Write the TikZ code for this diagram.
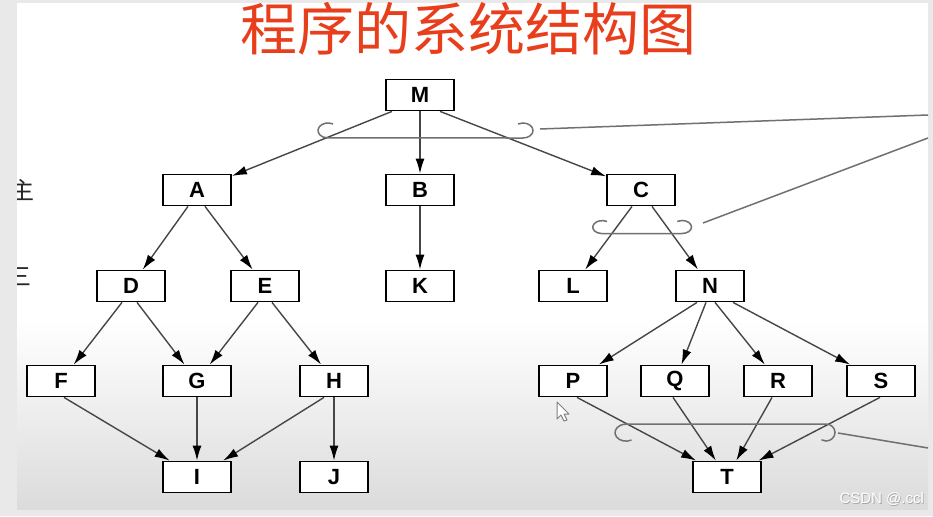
\documentclass[tikz,border=0pt]{standalone}
\usepackage{fontspec}
\setmainfont{Liberation Sans}
\newfontfamily\cjk{Noto Sans CJK SC}
\usetikzlibrary{arrows.meta}
\definecolor{TitleClr}{RGB}{232,62,28}
\definecolor{LineClr}{RGB}{70,70,70}
\definecolor{MarkClr}{RGB}{112,112,112}
\definecolor{PanelClr}{RGB}{233,233,233}

\tikzset{
  modbox/.style={draw=black,line width=1.8pt,fill=white,minimum width=68pt,
    minimum height=31pt,inner sep=0pt,font=\fontsize{22}{22}\selectfont\bfseries},
  call/.style={draw=LineClr,line width=1.4pt,-{Latex[length=15pt,width=9pt,color=black]}},
  selmark/.style={draw=MarkClr,line width=1.5pt},
  sidechar/.style={font=\cjk\fontsize{24}{24}\selectfont,text=black!85,inner sep=0pt},
}

\begin{document}
\begin{tikzpicture}[x=1pt,y=-1pt]
\useasboundingbox (0,0) rectangle (933,516);

% background of the slide
\fill[PanelClr] (0,0) rectangle (933,516);
\fill[white] (17,3) rectangle (928,509);
\shade[top color=white,bottom color=gray!28] (17,320) rectangle (928,509);

\begin{scope}
\clip (17,3) rectangle (928,509);

\node[font=\cjk\fontsize{57}{57}\selectfont,text=TitleClr] (title) at (468,29) {程序的系统结构图};

\node[sidechar] (cut1) at (22,190) {主};
\node[sidechar] (cut2) at (19,277) {三};

% modules
\node[modbox] (M) at (420,95) {M};

\node[modbox] (A) at (197,190) {A};
\node[modbox] (B) at (420,190) {B};
\node[modbox] (C) at (641,190) {C};

\node[modbox] (D) at (131,286) {D};
\node[modbox] (E) at (265,286) {E};
\node[modbox] (K) at (420,286) {K};
\node[modbox] (L) at (573,286) {L};
\node[modbox] (N) at (710,286) {N};

\node[modbox] (F) at (61,381) {F};
\node[modbox] (G) at (197,381) {G};
\node[modbox] (H) at (334,381) {H};
\node[modbox] (P) at (573,381) {P};
\node[modbox] (Q) at (675,381) {Q};
\node[modbox] (R) at (778,381) {R};
\node[modbox] (S) at (881,381) {S};

\node[modbox] (I) at (197,477) {I};
\node[modbox] (J) at (334,477) {J};
\node[modbox] (T) at (727,477) {T};

% calls
\draw[call] ([xshift=-28pt]M.south) -- (A);
\draw[call] (M.south) -- (B);
\draw[call] ([xshift=20pt]M.south) -- (C);

\draw[call] ([xshift=-9pt]A.south) -- (D);
\draw[call] ([xshift=8pt]A.south) -- (E);
\draw[call] (B.south) -- (K);
\draw[call] ([xshift=-9pt]C.south) -- (L);
\draw[call] ([xshift=11pt]C.south) -- (N);

\draw[call] ([xshift=-9pt]D.south) -- (F);
\draw[call] ([xshift=6pt]D.south) -- (G);
\draw[call] ([xshift=-7pt]E.south) -- (G);
\draw[call] ([xshift=7pt]E.south) -- (H);

\draw[call] ([xshift=-13pt]N.south) -- (P);
\draw[call] ([xshift=-4pt]N.south) -- (Q);
\draw[call] ([xshift=5pt]N.south) -- (R);
\draw[call] ([xshift=23pt]N.south) -- (S);

\draw[call] ([xshift=3pt]F.south) -- (I);
\draw[call] (G.south) -- (I);
\draw[call] ([xshift=-10pt]H.south) -- (I);
\draw[call] (H.south) -- (J);

\draw[call] ([xshift=4pt]P.south) -- (T);
\draw[call] ([xshift=-2pt]Q.south) -- (T);
\draw[call] ([xshift=-6pt]R.south) -- (T);
\draw[call] ([xshift=-1pt]S.south) -- (T);

% selection marks and their notes
\draw[selmark] (333,124) arc[start angle=-60,end angle=-270,x radius=10,y radius=7.5]
  -- (523,138) arc[start angle=90,end angle=-120,x radius=10,y radius=7.5];
\draw[selmark] (607,221.5) arc[start angle=-60,end angle=-270,x radius=9.5,y radius=6.5]
  -- (682,233.5) arc[start angle=90,end angle=-120,x radius=9.5,y radius=6.5];
\draw[selmark] (631.5,440) arc[start angle=60,end angle=270,x radius=11,y radius=8.5]
  -- (826,424) arc[start angle=-90,end angle=120,x radius=9,y radius=8.5];

\coordinate (markM) at (540,129);
\coordinate (noteM) at (928,115);
\coordinate (markC) at (703,223);
\coordinate (noteC) at (928,138);
\coordinate (markT) at (838,433);
\coordinate (noteT) at (928,448);
\draw[selmark] (markM) -- (noteM);
\draw[selmark] (markC) -- (noteC);
\draw[selmark] (markT) -- (noteT);

% mouse pointer
\draw[fill=white,draw=gray,line width=1pt,line join=round] (557,402) -- (557,419) -- (561,415)
  -- (564,421) -- (567,420) -- (564,414) -- (569,414) -- cycle;

% watermark
\node[anchor=west,font=\fontsize{15}{15}\selectfont,text=gray!70] (wm0) at (836.8,499.8) {CSDN @.ccl};
\node[anchor=west,font=\fontsize{15}{15}\selectfont,text=white] (wm) at (836,499) {CSDN @.ccl};
\end{scope}

\end{tikzpicture}
\end{document}
